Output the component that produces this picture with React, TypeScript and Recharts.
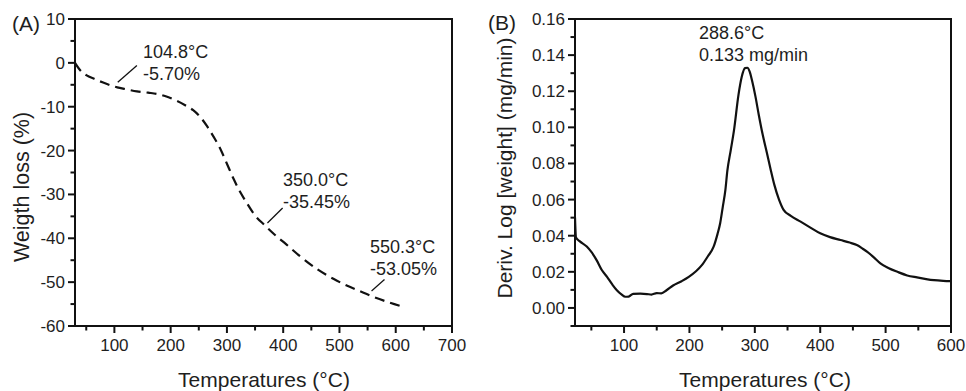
import React from 'react';
import { LineChart, Line, XAxis, YAxis, ReferenceLine } from 'recharts';

// (A) TGA curve: temperature (°C) vs weight loss (%)
const tgaTemps = [30, 40, 50, 65, 80, 95, 105, 120, 140, 160, 180, 195, 210, 225, 240, 253, 265, 277, 289, 300, 312, 320, 335, 350, 366, 385, 402, 430, 461, 490, 515, 535, 557, 585, 612];
const tgaLoss = [0, -1.8, -2.8, -3.7, -4.5, -5.2, -5.6, -6.0, -6.5, -6.8, -7.2, -7.8, -8.6, -9.6, -10.8, -12.4, -14.5, -17.0, -19.8, -23.0, -26.5, -28.6, -31.9, -34.8, -36.9, -39.2, -41.0, -44.1, -47.1, -49.3, -50.9, -52.0, -53.2, -54.5, -55.6];

// (B) DTG curve: temperature (°C) vs deriv. log weight (mg/min)
const dtgTemps = [25, 26.5, 32, 43, 50, 58, 66, 74, 82, 89, 96, 102, 107, 114, 125, 135, 142, 150, 157, 165, 175, 188, 199, 210, 219, 228, 237, 243, 247, 251, 255, 258, 263, 268, 275, 280, 285, 288.6, 292, 296, 301, 306, 312, 318.5, 324, 330, 337, 344, 355, 370, 385, 400, 415, 431, 445, 456, 465, 472, 482, 492, 505, 518, 533, 548, 562, 574, 588, 600];
const dtgRate = [0.05, 0.039, 0.037, 0.034, 0.031, 0.0265, 0.021, 0.0172, 0.013, 0.0098, 0.0075, 0.0062, 0.0063, 0.0078, 0.0079, 0.0077, 0.0074, 0.0082, 0.0081, 0.0098, 0.0124, 0.0148, 0.0172, 0.0203, 0.0237, 0.0285, 0.0339, 0.041, 0.0469, 0.056, 0.0654, 0.076, 0.087, 0.098, 0.118, 0.128, 0.1328, 0.133, 0.131, 0.1255, 0.117, 0.107, 0.096, 0.0858, 0.077, 0.068, 0.06, 0.0543, 0.051, 0.0478, 0.0445, 0.0413, 0.0392, 0.0376, 0.0362, 0.0348, 0.0328, 0.0311, 0.028, 0.0247, 0.022, 0.02, 0.018, 0.0169, 0.016, 0.0154, 0.015, 0.0148];

// ticks (minor + major) and which ones get labels
const tgaXTicks = [50, 100, 150, 200, 250, 300, 350, 400, 450, 500, 550, 600, 650, 700];
const tgaXLabels = ['100', '200', '300', '400', '500', '600', '700'];
const tgaYTicks = [-60, -55, -50, -45, -40, -35, -30, -25, -20, -15, -10, -5, 0, 5, 10];
const tgaYLabels = ['-60', '-50', '-40', '-30', '-20', '-10', '0', '10'];
const dtgXTicks = [50, 100, 150, 200, 250, 300, 350, 400, 450, 500, 550, 600];
const dtgXLabels = ['100', '200', '300', '400', '500', '600'];
const dtgYTicks = [-0.01, 0, 0.01, 0.02, 0.03, 0.04, 0.05, 0.06, 0.07, 0.08, 0.09, 0.1, 0.11, 0.12, 0.13, 0.14, 0.15, 0.16];
const dtgYLabels = ['0.00', '0.02', '0.04', '0.06', '0.08', '0.10', '0.12', '0.14', '0.16'];

const tgaData = tgaTemps.map((t, i) => ({ t, w: tgaLoss[i] }));
const dtgData = dtgTemps.map((t, i) => ({ t, d: dtgRate[i] }));

const FONT = '"Liberation Sans", Arial, sans-serif';
const INK = '#1e1e1e';

const findLabel = (labels: string[], v: number) => labels.find((l) => Math.abs(parseFloat(l) - v) < 1e-6);

// major ticks get a longer mark and a label, minor ones only a short mark
const makeXTick = (labels: string[]) => (props: any) => {
  const { x, y, payload } = props;
  const label = findLabel(labels, payload.value);
  return (
    <g>
      <path d={`M${x},${y}V${y + (label ? 7 : 4.5)}`} stroke="#111" strokeWidth={2} fill="none" />
      {label && (
        <text x={x} y={y + 25} textAnchor="middle" fontSize={17} fill={INK} stroke="none" fontFamily={FONT}>{label}</text>
      )}
    </g>
  );
};

const makeYTick = (labels: string[]) => (props: any) => {
  const { x, y, payload } = props;
  const label = findLabel(labels, payload.value);
  return (
    <g>
      <path d={`M${x},${y}H${x - (label ? 7 : 4.5)}`} stroke="#111" strokeWidth={2} fill="none" />
      {label && (
        <text x={x - 10} y={y + 6} textAnchor="end" fontSize={17} fill={INK} stroke="none" fontFamily={FONT}>{label}</text>
      )}
    </g>
  );
};

const txt = (left: number, top: number, content: React.ReactNode, size = 18) => (
  <div style={{ position: 'absolute', left, top, fontSize: size, lineHeight: '22px', color: INK, whiteSpace: 'nowrap' }}>{content}</div>
);

const yTitle = (cx: number, cy: number, content: string, size = 21.5) => (
  <div style={{ position: 'absolute', left: cx, top: cy, transform: 'translate(-50%, -50%) rotate(-90deg)', fontSize: size, color: INK, whiteSpace: 'nowrap' }}>{content}</div>
);

const xTitle = (cx: number, cy: number, content: string) => (
  <div style={{ position: 'absolute', left: cx, top: cy, transform: 'translate(-50%, -50%)', fontSize: 21, color: INK, whiteSpace: 'nowrap' }}>{content}</div>
);

// box around each plot (the picture has a full frame, no ticks on top/right)
const frame = (left: number, top: number, right: number, bottom: number) => (
  <div style={{ position: 'absolute', left: left - 1, top: top - 1, width: right - left + 2, height: bottom - top + 2, border: '2px solid #111', boxSizing: 'border-box', pointerEvents: 'none' }} />
);

export default function App() {
  return (
    <div style={{ position: 'absolute', left: 0, top: 0, width: 966, height: 391, background: '#fff', fontFamily: FONT, overflow: 'hidden' }}>
      <div style={{ position: 'absolute', left: 0, top: 0 }}>
        <LineChart width={480} height={391} data={tgaData} margin={{ top: 19, right: 28, bottom: 0, left: 0 }}>
          <XAxis dataKey="t" type="number" domain={[30, 700]} ticks={tgaXTicks} interval={0} height={65}
            tickSize={0} tickMargin={0} tickLine={false} axisLine={false}
            tick={makeXTick(tgaXLabels)} allowDataOverflow />
          <YAxis type="number" domain={[-60, 10]} ticks={tgaYTicks} interval={0} width={75}
            tickSize={0} tickMargin={0} tickLine={false} axisLine={false}
            tick={makeYTick(tgaYLabels)} allowDataOverflow />
          <ReferenceLine segment={[{ x: 140, y: -0.6 }, { x: 106, y: -4.4 }]} stroke="#111" strokeWidth={1.3} />
          <ReferenceLine segment={[{ x: 399, y: -33.1 }, { x: 372, y: -36.5 }]} stroke="#111" strokeWidth={1.3} />
          <ReferenceLine segment={[{ x: 580, y: -49.4 }, { x: 557, y: -52.0 }]} stroke="#111" strokeWidth={1.3} />
          <Line type="monotone" dataKey="w" stroke="#111" strokeWidth={2.2} strokeDasharray="10 6" dot={false} isAnimationActive={false} />
        </LineChart>
      </div>
      <div style={{ position: 'absolute', left: 480, top: 0 }}>
        <LineChart width={486} height={391} data={dtgData} margin={{ top: 19, right: 15, bottom: 0, left: 0 }}>
          <XAxis dataKey="t" type="number" domain={[25, 600]} ticks={dtgXTicks} interval={0} height={65}
            tickSize={0} tickMargin={0} tickLine={false} axisLine={false}
            tick={makeXTick(dtgXLabels)} allowDataOverflow />
          <YAxis type="number" domain={[-0.01, 0.16]} ticks={dtgYTicks} interval={0} width={95}
            tickSize={0} tickMargin={0} tickLine={false} axisLine={false}
            tick={makeYTick(dtgYLabels)} allowDataOverflow />
          <Line type="monotone" dataKey="d" stroke="#111" strokeWidth={2.2} dot={false} isAnimationActive={false} />
        </LineChart>
      </div>

      {frame(75, 19, 452, 326)}
      {frame(575, 19, 951, 326)}

      {txt(12, 13, '(A)', 21)}
      {txt(488, 12, '(B)', 21)}

      {txt(143, 41, <>104.8°C<br />-5.70%</>)}
      {txt(283, 169, <>350.0°C<br />-35.45%</>)}
      {txt(370, 236, <>550.3°C<br />-53.05%</>)}
      {txt(699, 22, <>288.6°C<br />0.133 mg/min</>)}

      {xTitle(264, 380, 'Temperatures (°C)')}
      {xTitle(765, 380, 'Temperatures (°C)')}
      {yTitle(22, 187, 'Weigth loss (%)')}
      {yTitle(505, 168, 'Deriv. Log [weight] (mg/min)', 21)}
    </div>
  );
}
